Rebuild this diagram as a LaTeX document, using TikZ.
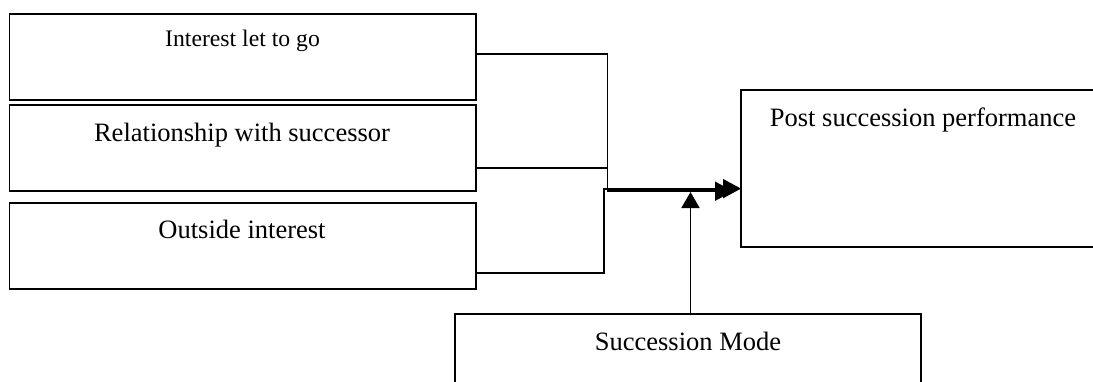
\documentclass[tikz,border=0pt]{standalone}
\usepackage{fontspec}
\setmainfont{Liberation Serif}
\usetikzlibrary{arrows.meta,calc}

\tikzset{
  box/.style={draw=black, line width=1.9pt, fill=none, inner sep=0pt, outer sep=0pt},
  lbl/.style={anchor=base, inner sep=0pt, font=\fontsize{26.5}{30}\selectfont},
  lblsmall/.style={anchor=base, inner sep=0pt, font=\fontsize{23.7}{28}\selectfont},
  wire/.style={draw=black, line width=1.8pt},
  tip/.style={-{Triangle[length=18pt,width=19pt]}},
  uptip/.style={-{Triangle[length=16pt,width=18pt]}}
}

\begin{document}
\begin{tikzpicture}[x=1pt, y=-1pt]
  \useasboundingbox (0,0) rectangle (1093,381);
  \clip (0,0) rectangle (1093,381);

  % factor boxes on the left
  \node[box, minimum width=466.5pt, minimum height=86pt] (b1) at (242.75,57) {};
  \node[box, minimum width=466.5pt, minimum height=86pt] (b2) at (242.75,148) {};
  \node[box, minimum width=466.5pt, minimum height=86pt] (b3) at (242.75,246) {};

  % outcome and moderator boxes
  \node[box, minimum width=369pt, minimum height=157pt] (post) at (925.5,168.5) {};
  \node[box, minimum width=466pt, minimum height=86pt] (mode) at (688,357) {};

  % box labels
  \node[lblsmall] (t1) at (242.5,46.7) {Interest let to go};
  \node[lbl] (t2) at (242,141.5) {Relationship with successor};
  \node[lbl] (t3) at (242,238.5) {Outside interest};
  \node[lbl] (tp) at (923,126) {Post succession performance};
  \node[lbl] (tm) at (688,350.5) {Succession Mode};

  % junction points of the connectors
  \coordinate (k1) at (607.5,191.2);
  \coordinate (k3) at (604,188.6);
  \coordinate (e2) at ($(b2.east)+(0,20)$);

  % connectors into the outcome box
  \draw[wire, tip] ($(b1.east)+(0,-2.7)$) -| (k1) -- ($(k1 -| post.west)+(-8,0)$);
  \draw[wire] (e2) -- (e2 -| k1);
  \draw[wire, tip] ($(b3.east)+(0,27)$) -| (k3) -- (k3 -| post.west);

  % moderator arrow
  \draw[wire, uptip] ($(mode.north)+(2.5,0)$) -- ++(0,-122);
\end{tikzpicture}
\end{document}
